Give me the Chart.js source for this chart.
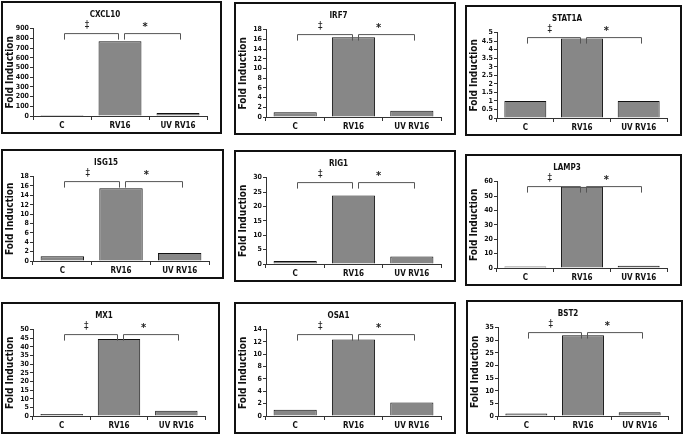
<!DOCTYPE html>
<html>
<head>
<meta charset="utf-8">
<script src="https://cdn.jsdelivr.net/npm/chart.js@4.4.1/dist/chart.umd.min.js"></script>
<style>
  body { margin:0; background:#fff; width:685px; height:437px; position:relative; overflow:hidden; }
  .p { position:absolute; border:2px solid #111; box-sizing:border-box; background:#fff; }
  .p canvas { display:block; }
</style>
</head>
<body>
<div class="p" style="left:1px;top:1px;width:221px;height:133px"><canvas id="c0"></canvas></div>
<div class="p" style="left:234px;top:2px;width:222px;height:133px"><canvas id="c1"></canvas></div>
<div class="p" style="left:465px;top:5px;width:217px;height:131px"><canvas id="c2"></canvas></div>
<div class="p" style="left:1px;top:149px;width:223px;height:130px"><canvas id="c3"></canvas></div>
<div class="p" style="left:234px;top:150px;width:222px;height:132px"><canvas id="c4"></canvas></div>
<div class="p" style="left:465px;top:154px;width:217px;height:132px"><canvas id="c5"></canvas></div>
<div class="p" style="left:1px;top:302px;width:219px;height:132px"><canvas id="c6"></canvas></div>
<div class="p" style="left:234px;top:302px;width:222px;height:132px"><canvas id="c7"></canvas></div>
<div class="p" style="left:466px;top:300px;width:217px;height:134px"><canvas id="c8"></canvas></div>
<script>
// conditions on the x axis
const categories = ["C", "RV16", "UV RV16"];

// fold induction per gene (C, RV16, UV RV16)
const genes = ["CXCL10", "IRF7", "STAT1A", "ISG15", "RIG1", "LAMP3", "MX1", "OSA1", "BST2"];
const cxcl10 = [1, 770, 30];
const irf7   = [1, 16.4, 1.3];
const stat1a = [1, 4.65, 1];
const isg15  = [1, 15.5, 1.7];
const rig1   = [1, 23.8, 2.6];
const lamp3  = [1, 56.5, 1.5];
const mx1    = [1.2, 44.5, 3];
const osa1   = [1, 12.4, 2.2];
const bst2   = [1, 32, 1.5];
const values = [cxcl10, irf7, stat1a, isg15, rig1, lamp3, mx1, osa1, bst2];

// y axis ticks
const yMax  = [900, 18, 5, 18, 30, 60, 50, 14, 35];
const yStep = [100, 2, 0.5, 2, 5, 10, 5, 2, 5];

// significance marks: C vs RV16, RV16 vs UV RV16
const marks = ["\u2021", "*"];

const FONT = "'Liberation Sans Narrow', 'DejaVu Sans Condensed', Arial, sans-serif";

const brackets = {
  id: "brackets",
  afterDatasetsDraw(chart) {
    const ctx = chart.ctx;
    const x = chart.scales.x;
    const top = chart.chartArea.top + 5;
    const x0 = x.getPixelForValue(0);
    const x1 = x.getPixelForValue(1);
    const x2 = x.getPixelForValue(2);
    const leg = 6;
    ctx.save();
    ctx.strokeStyle = "#555";
    ctx.lineWidth = 1;
    function seg(a, b) {
      ctx.beginPath();
      ctx.moveTo(a, top + leg);
      ctx.lineTo(a, top);
      ctx.lineTo(b, top);
      ctx.lineTo(b, top + leg);
      ctx.stroke();
    }
    seg(Math.round(x0 + 2) + 0.5, Math.round(x1 - 2) + 0.5);
    seg(Math.round(x1 + 4) + 0.5, Math.round(x2 + 2) + 0.5);
    ctx.fillStyle = "#222";
    ctx.textAlign = "center";
    ctx.textBaseline = "bottom";
    ctx.font = "10px " + FONT;
    ctx.fillText(marks[0], (x0 + x1) / 2 - 4, top - 3);
    ctx.font = "bold 11px " + FONT;
    ctx.fillText(marks[1], (x1 + x2) / 2 - 4, top - 1);
    ctx.restore();
  }
};

for (let i = 0; i < genes.length; i++) {
  new Chart(document.getElementById("c" + i), {
    type: "bar",
    data: {
      labels: categories,
      datasets: [{
        data: values[i],
        backgroundColor: "#878787",
        borderColor: "#111",
        borderWidth: 1,
        barPercentage: 0.74,
        categoryPercentage: 1
      }]
    },
    options: {
      responsive: true,
      maintainAspectRatio: false,
      animation: false,
      layout: { padding: { left: 0, right: 13, top: 3, bottom: 0 } },
      plugins: {
        legend: { display: false },
        tooltip: { enabled: false },
        title: {
          display: true,
          text: genes[i],
          color: "#111",
          font: { family: FONT, size: 8, weight: "bold" },
          padding: { top: 4, bottom: 9 }
        }
      },
      scales: {
        x: {
          afterFit: s => { s.height = 16; },
          grid: { drawOnChartArea: false, drawTicks: true, tickLength: 4, color: "#333", offset: true },
          border: { display: true, color: "#333", width: 1 },
          ticks: { autoSkip: false, color: "#111", font: { family: FONT, size: 8, weight: "bold", lineHeight: 1 }, padding: 2, maxRotation: 0 }
        },
        y: {
          min: 0,
          max: yMax[i],
          afterFit: s => { s.width = 30; },
          grid: { drawOnChartArea: false, drawTicks: true, tickLength: 3, color: "#333" },
          border: { display: true, color: "#333", width: 1 },
          ticks: {
            autoSkip: false,
            stepSize: yStep[i],
            color: "#111",
            font: { family: FONT, size: 7, weight: "bold", lineHeight: 1 },
            padding: 1,
            callback: v => String(v)
          },
          title: {
            display: true,
            text: "Fold Induction",
            color: "#111",
            font: { family: FONT, size: 10, weight: "bold", lineHeight: 1 },
            padding: { top: 2, bottom: 1 }
          }
        }
      }
    },
    plugins: [brackets]
  });
}
</script>
</body>
</html>
